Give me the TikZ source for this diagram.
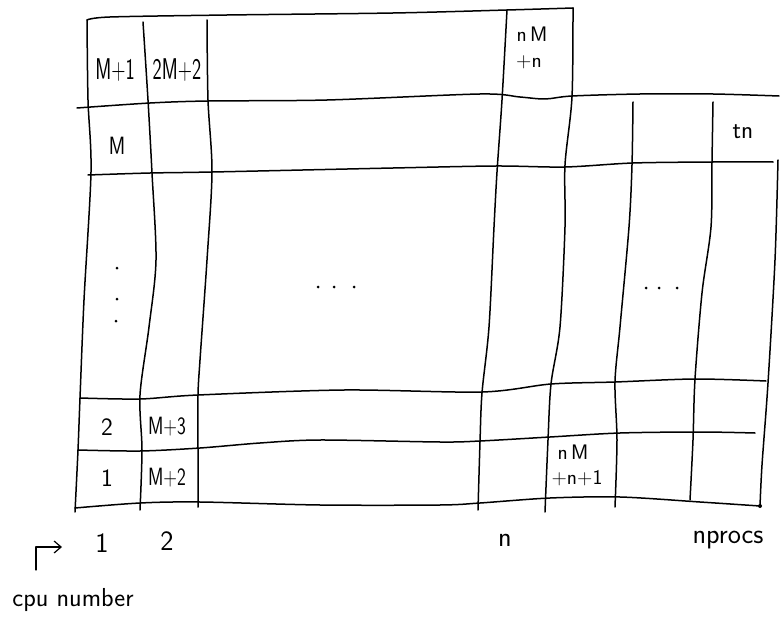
\documentclass[tikz,border=0pt]{standalone}
\usepackage{fontspec}
\usetikzlibrary{arrows.meta}
\tikzset{
  gline/.style={line width=1.5pt, line cap=round, line join=round},
  lab/.style={inner sep=0pt, font=\fontsize{25}{28}\selectfont\sffamily},
  biglab/.style={inner sep=0pt, font=\fontsize{30}{32}\selectfont\sffamily},
  axlab/.style={inner sep=0pt, font=\fontsize{28}{30}\selectfont\sffamily},
  slab/.style={inner sep=0pt, font=\fontsize{21}{24}\selectfont\sffamily},
  dotm/.style={fill=black, circle, inner sep=0pt, minimum size=3pt},
}
\newcommand\narrowtxt[2]{\scalebox{#1}[1]{#2}}
\begin{document}
\begin{tikzpicture}[x=1pt, y=-1pt]
\useasboundingbox (0,0) rectangle (780,618);
% horizontal lines
\draw[gline] plot[smooth] coordinates {(87,20)(110,17)(227,15)(393,13)(507,10)(573,8)};
\draw[gline] plot[smooth] coordinates {(77,108)(150,103)(208,101)(327,100)(480,94)(520,97)(545,99)(572,96)(640,94)(713,94)(779,96)};
\draw[gline] plot[smooth] coordinates {(88,175)(150,173)(212,172)(393,168)(496,166)(565,167)(633,163)(713,162)(773,162)};
\draw[gline] plot[smooth] coordinates {(80,398)(140,399)(198,395)(344,390)(482,392)(551,384)(615,382)(695,379)(766,381)};
\draw[gline] plot[smooth] coordinates {(78,450)(140,451)(200,448)(260,443)(320,440)(440,442)(480,441)(550,437)(620,433)(700,432)(755,433)};
\draw[gline] plot[smooth] coordinates {(75,508)(140,503)(200,502)(320,505)(440,505)(480,503)(550,498)(620,497)(700,502)(760,506)};
% vertical lines
\draw[gline] plot[smooth] coordinates {(87,20)(88,100)(91,172)(84,300)(80,398)(78,450)(75,512)};
\draw[gline] plot[smooth] coordinates {(143,22)(148,100)(152,173)(156,260)(149,327)(140,395)(142,450)(140,510)};
\draw[gline] plot[smooth] coordinates {(207,20)(208,100)(212,172)(207,260)(200,360)(198,395)(198,450)(198,507)};
\draw[gline] plot[smooth] coordinates {(507,10)(502,100)(497,172)(494,227)(489,327)(482,393)(480,442)(478,510)};
\draw[gline] plot[smooth] coordinates {(573,8)(572,97)(565,165)(565,227)(560,327)(551,384)(548,440)(545,512)};
\draw[gline] plot[smooth] coordinates {(633,102)(632,165)(629,227)(620,327)(615,382)(617,440)(615,507)};
\draw[gline] plot[smooth] coordinates {(713,102)(712,162)(711,227)(702,293)(695,379)(693,440)(690,500)};
\draw[gline] plot[smooth] coordinates {(778,160)(775,260)(768,383)(762,465)(760,506)};
\fill (760,506) circle (2pt);
% cell labels
\node[biglab] (m1) at (115,70) {\narrowtxt{0.65}{M+1}};
\node[biglab] (m22) at (177,70) {\narrowtxt{0.65}{2M+2}};
\node[slab] (nmA) at (532,34) {n\,M};
\node[slab] (nmB) at (529,62) {+n};
\node[lab] (mm) at (117,146) {\narrowtxt{0.8}{M}};
\node[lab] (tn) at (743,132) {tn};
\node[lab] (two) at (107,427) {2};
\node[lab] (m3) at (167,427) {\narrowtxt{0.75}{M+3}};
\node[lab] (one) at (107,478) {1};
\node[lab] (m2) at (167,478) {\narrowtxt{0.75}{M+2}};
\node[slab] (nmC) at (573,452) {n\,M};
\node[slab] (nmD) at (577,478) {+n+1};
% dots
\node[dotm] (v1) at (117,268) {};
\node[dotm] (v2) at (117,299) {};
\node[dotm] (v3) at (116,321) {};
\node[dotm] (h1) at (318,287) {};
\node[dotm] (h2) at (334,287) {};
\node[dotm] (h3) at (354,287) {};
\node[dotm] (r1) at (646,288) {};
\node[dotm] (r2) at (659,288) {};
\node[dotm] (r3) at (677,288) {};
% axis labels
\node[axlab] (c1) at (102,543) {1};
\node[axlab] (c2) at (167,541) {2};
\node[axlab] (cn) at (505,540) {n};
\node[axlab] (cnp) at (728,540) {nprocs};
\node[inner sep=0pt, font=\fontsize{26}{28}\selectfont\sffamily] (cpu) at (73,600) {cpu number};
\coordinate (arrS) at (36,570);
\coordinate (arrE) at (62,547);
\draw[gline, line width=1.2pt, -{Straight Barb[length=7pt,width=12pt]}] (arrS) |- (arrE);
\end{tikzpicture}
\end{document}
